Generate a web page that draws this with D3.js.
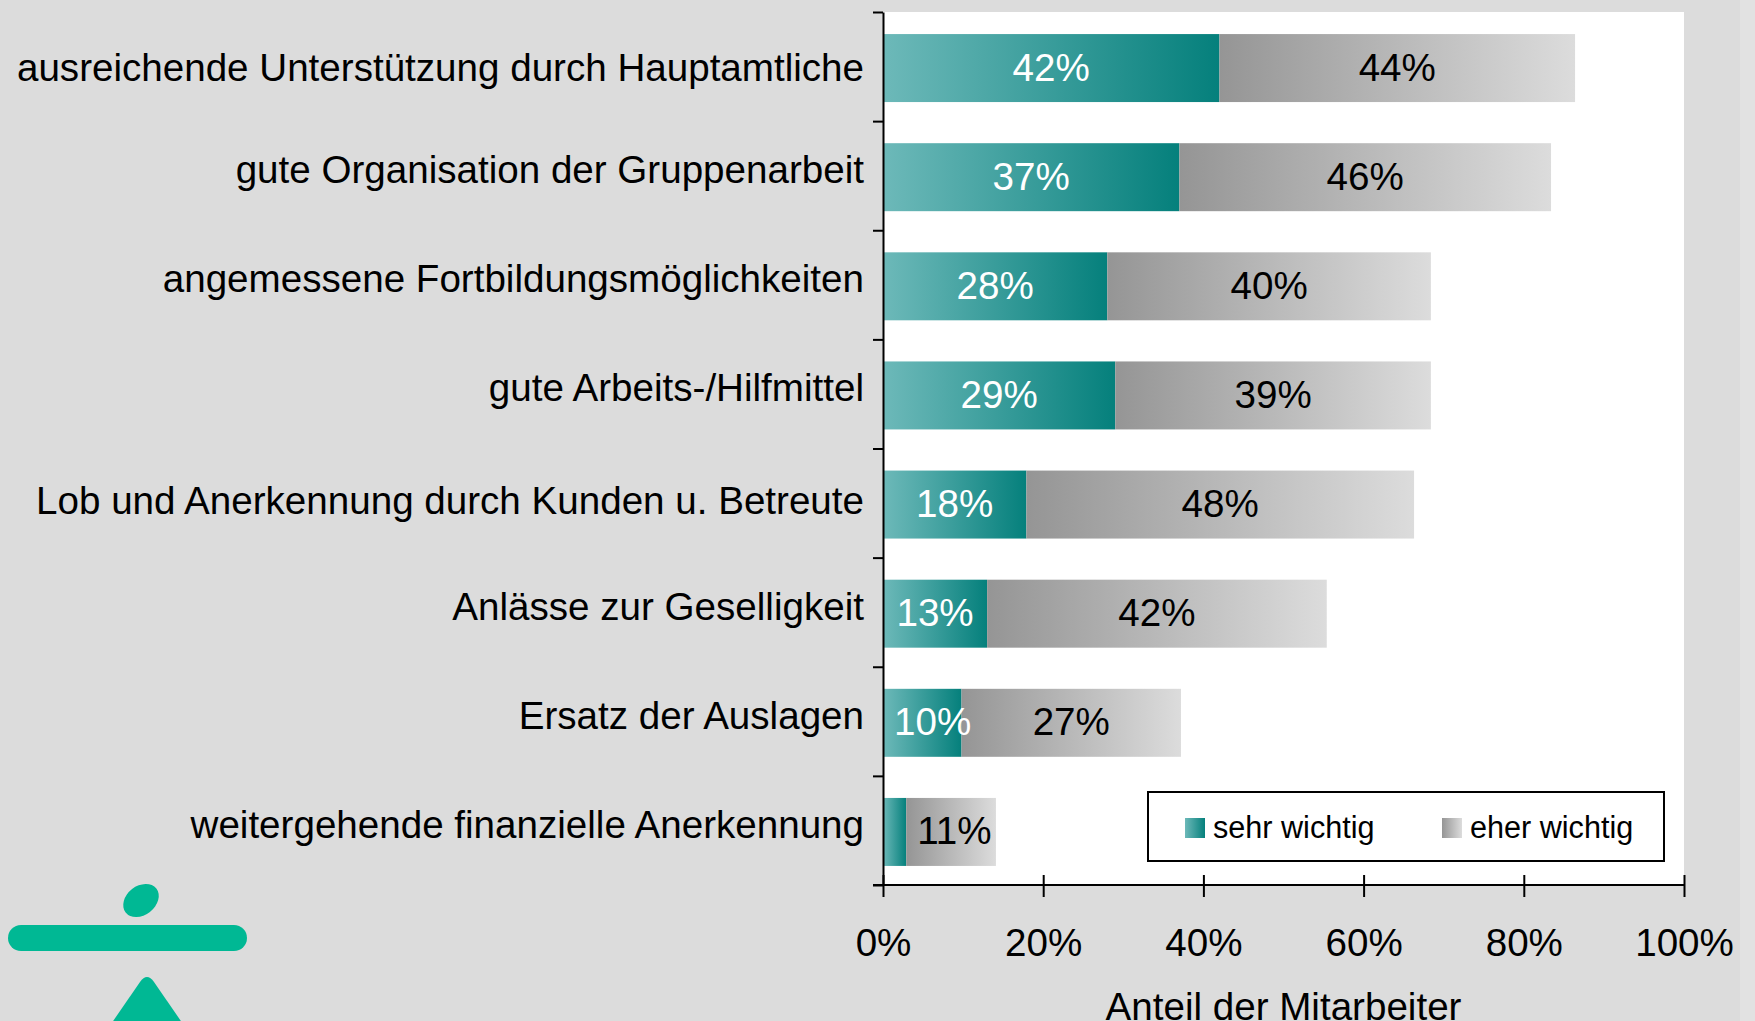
<!DOCTYPE html>
<meta charset="utf-8">
<style>
    body { margin: 0; background: #dcdcdc; }
    svg { display: block; font-family: "Liberation Sans", Arial, sans-serif; }
    .cat { font-size: 38.6px; text-anchor: end; fill: #000; }
    .val { font-size: 38.6px; text-anchor: middle; }
    .axis text { font-size: 38.6px; font-family: "Liberation Sans", Arial, sans-serif; fill: #000; }
    .axis line, .axis path { stroke: #000; stroke-width: 2px; }
    .legend text { font-size: 30.6px; fill: #000; }
</style>
<svg width="1755" height="1021"></svg>
<script src="https://d3js.org/d3.v7.min.js"></script>
<script>

    var categories = [
        "ausreichende Unterstützung durch Hauptamtliche",
        "gute Organisation der Gruppenarbeit",
        "angemessene Fortbildungsmöglichkeiten",
        "gute Arbeits-/Hilfmittel",
        "Lob und Anerkennung durch Kunden u. Betreute",
        "Anlässe zur Geselligkeit",
        "Ersatz der Auslagen",
        "weitergehende finanzielle Anerkennung"
    ];
    var sehrWichtig = [42, 37, 28, 29, 17.9, 13, 9.8, 2.9];
    var eherWichtig = [44.4, 46.4, 40.4, 39.4, 48.4, 42.4, 27.4, 11.2];
    var seriesNames = ["sehr wichtig", "eher wichtig"];
    var xTicks = [0, 20, 40, 60, 80, 100];

    var svg = d3.select("svg");
    var W = 1755, H = 1021;
    var pLeft = 883, pRight = 1684, pTop = 12, pBottom = 885;

    // background + slightly lighter strip at the far right
    svg.append("rect").attr("width", W).attr("height", H).attr("fill", "#dcdcdc");
    svg.append("rect").attr("x", 1740).attr("width", W - 1740).attr("height", H).attr("fill", "#e2e2e2");
    svg.append("rect").attr("x", pLeft).attr("y", pTop)
        .attr("width", pRight - pLeft).attr("height", pBottom - pTop).attr("fill", "#fff");

    var defs = svg.append("defs");
    function grad(id, c0, c1) {
        var g = defs.append("linearGradient").attr("id", id)
            .attr("x1", "0").attr("x2", "1").attr("y1", "0").attr("y2", "0");
        g.append("stop").attr("offset", "0").attr("stop-color", c0);
        g.append("stop").attr("offset", "1").attr("stop-color", c1);
    }
    grad("gTeal", "#6db9b9", "#05807c");
    grad("gGrey", "#959595", "#dcdcdc");

    var x = d3.scaleLinear().domain([0, 100]).range([pLeft, pRight]);
    var y = d3.scaleBand().domain(categories).range([pTop, pBottom])
        .paddingInner(0.377).paddingOuter(0.1885);

    var rows = categories.map(function (c, i) {
        return {cat: c, s: sehrWichtig[i], e: eherWichtig[i]};
    });

    var row = svg.selectAll(".row").data(rows).enter().append("g")
        .attr("class", "row")
        .attr("transform", function (d) { return "translate(0," + (y(d.cat) + 1.5) + ")"; });

    row.append("rect")
        .attr("x", x(0))
        .attr("width", function (d) { return x(d.s) - x(0); })
        .attr("height", y.bandwidth())
        .attr("fill", "url(#gTeal)");
    row.append("rect")
        .attr("x", function (d) { return x(d.s); })
        .attr("width", function (d) { return x(d.s + d.e) - x(d.s); })
        .attr("height", y.bandwidth())
        .attr("fill", "url(#gGrey)");

    function addLabel(sel, start, val, color) {
        sel.each(function (d) {
            var v = val(d);
            if (v < 5) return;
            var x0 = x(start(d)), x1 = x(start(d) + v);
            var t = d3.select(this).append("text")
                .attr("class", "val")
                .attr("y", y.bandwidth() / 2 + 12.5)
                .attr("fill", color)
                .text(Math.round(v) + "%");
            var w = t.node().getComputedTextLength();
            t.attr("x", Math.max((x0 + x1) / 2, x0 + 11 + w / 2));
        });
    }
    addLabel(row, function () { return 0; }, function (d) { return d.s; }, "#fff");
    addLabel(row, function (d) { return d.s; }, function (d) { return d.e; }, "#000");

    // category labels (excel nudges them a little, the first one sits lower)
    svg.selectAll(".cat").data(categories).enter().append("text")
        .attr("class", "cat")
        .attr("x", 864)
        .attr("y", function (d, i) {
            var nudge = i === 0 ? 7 : (i === 4 ? 3 : 0);
            return y(d) + 1.5 + y.bandwidth() / 2 + 6 + nudge;
        })
        .text(function (d) { return d; });

    // left axis: ticks on the category boundaries
    var yb = d3.scaleLinear().domain([0, categories.length]).range([pTop, pBottom]);
    svg.append("g").attr("class", "axis")
        .attr("transform", "translate(" + pLeft + ",0)")
        .call(d3.axisLeft(yb).ticks(categories.length).tickFormat("").tickSizeInner(10).tickSizeOuter(0));

    // bottom axis
    var xa = svg.append("g").attr("class", "axis")
        .attr("transform", "translate(0," + pBottom + ")")
        .call(d3.axisBottom(x).tickValues(xTicks).tickFormat(function (d) { return d + "%"; })
            .tickSizeOuter(0));
    xa.select(".domain").remove();
    xa.append("line").attr("x1", pLeft - 10).attr("x2", pRight).attr("y1", 0).attr("y2", 0);
    xa.selectAll(".tick line").attr("y1", -10).attr("y2", 12);
    xa.selectAll(".tick text").attr("y", 70.5).attr("dy", null);

    svg.append("text")
        .attr("x", (pLeft + pRight) / 2).attr("y", 1020)
        .attr("text-anchor", "middle")
        .style("font-size", "38.6px")
        .text("Anteil der Mitarbeiter");

    // legend
    var lg = svg.append("g").attr("class", "legend");
    lg.append("rect").attr("x", 1148).attr("y", 792).attr("width", 516).attr("height", 69)
        .attr("fill", "#fff").attr("stroke", "#000").attr("stroke-width", 2);
    var items = lg.selectAll(".item").data(seriesNames).enter().append("g")
        .attr("transform", function (d, i) { return "translate(" + (1185 + i * 257) + ",818)"; });
    items.append("rect").attr("width", 20).attr("height", 20)
        .attr("fill", function (d, i) { return i ? "url(#gGrey)" : "url(#gTeal)"; });
    items.append("text").attr("x", 28).attr("y", 19.5).text(function (d) { return d; });

    // logo
    var logo = svg.append("g").attr("fill", "#00b894");
    logo.append("ellipse").attr("cx", 141).attr("cy", 900.5).attr("rx", 19.5).attr("ry", 14.5)
        .attr("transform", "rotate(-38,141,900.5)");
    logo.append("rect").attr("x", 8).attr("y", 925).attr("width", 239).attr("height", 26).attr("rx", 13);
    logo.append("path").attr("d", "M100,1040L140,982Q147,972 154,982L194,1040Z");

</script>
